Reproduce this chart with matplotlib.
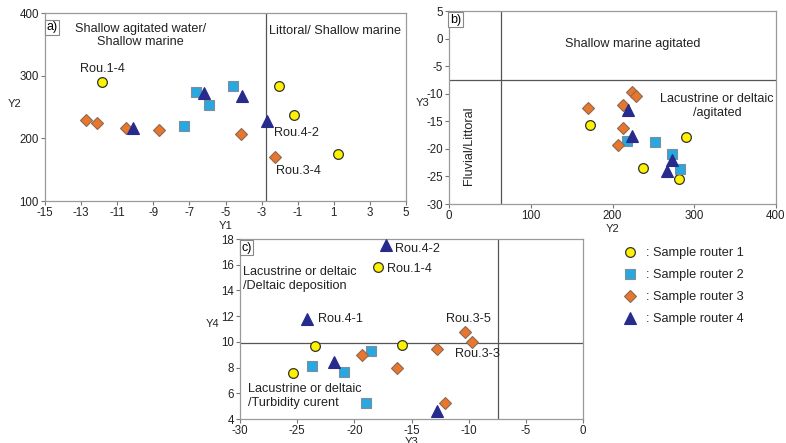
import numpy as np
import matplotlib
matplotlib.use("Agg")
from matplotlib import pyplot as plt
from matplotlib.lines import Line2D

plt.rcParams['font.family'] = ['Liberation Sans', 'DejaVu Sans']
plt.rcParams['axes.unicode_minus'] = False

# ---- panel a: Y1 vs Y2 ----
a_r1_x = [-11.86, -2.06, -1.23, 1.21]
a_r1_y = [289.7, 282.8, 237.5, 175.2]
a_r2_x = [-6.66, -5.91, -4.57, -7.31]
a_r2_y = [273.2, 253.0, 283.3, 219.4]
a_r3_x = [-12.71, -12.13, -10.53, -8.68, -4.15, -2.28]
a_r3_y = [229.0, 224.7, 215.7, 214.0, 207.7, 170.4]
a_r4_x = [-10.14, -6.18, -4.08, -2.71]
a_r4_y = [216.5, 272.5, 267.5, 227.0]

# ---- panel b: Y2 vs Y3 ----
b_r1_x = [172.8, 237.4, 281.9, 289.3]
b_r1_y = [-15.76, -23.43, -25.42, -17.93]
b_r2_x = [218.2, 252.5, 272.5, 282.3]
b_r2_y = [-18.54, -18.84, -20.89, -23.73]
b_r3_x = [169.6, 213.3, 223.5, 228.8, 213.3, 206.3]
b_r3_y = [-12.68, -11.96, -9.67, -10.39, -16.18, -19.26]
b_r4_x = [219.0, 224.3, 272.9, 266.8]
b_r4_y = [-12.9, -17.6, -22.0, -24.1]

# ---- panel c: Y3 vs Y4 ----
c_r1_x = [-17.97, -23.45, -15.81, -25.37]
c_r1_y = [15.82, 9.64, 9.74, 7.61]
c_r2_x = [-23.68, -18.52, -20.88, -18.96]
c_r2_y = [8.10, 9.27, 7.69, 5.22]
c_r3_x = [-10.31, -9.73, -12.78, -19.31, -16.25, -12.06]
c_r3_y = [10.73, 9.97, 9.45, 8.94, 8.00, 5.22]
c_r4_x = [-17.24, -24.12, -21.76, -12.73]
c_r4_y = [17.5, 11.75, 8.45, 4.6]

legend_labels = [': Sample router 1', ': Sample router 2',
                 ': Sample router 3', ': Sample router 4']

# marker styles per router
styles = [
    dict(marker='o', markersize=7.0, markerfacecolor='#FFF200', markeredgecolor='#333333', markeredgewidth=0.9),
    dict(marker='s', markersize=6.8, markerfacecolor='#29A8E0', markeredgecolor='#7f8c99', markeredgewidth=0.8),
    dict(marker='D', markersize=6.0, markerfacecolor='#E8762C', markeredgecolor='#8a6a55', markeredgewidth=0.8),
    dict(marker='^', markersize=8.6, markerfacecolor='#262B8C', markeredgecolor='#262B8C', markeredgewidth=0.8),
]

W, H = 786, 443
fig = plt.figure(figsize=(W / 100, H / 100), dpi=100)


def add_ax(left, top, right, bottom):
    return fig.add_axes([left / W, 1 - bottom / H, (right - left) / W, (bottom - top) / H])


def style_ax(ax):
    for s in ax.spines.values():
        s.set_color('#9a9a9a')
        s.set_linewidth(0.9)
    ax.tick_params(direction='out', length=3, width=0.8, color='#777777',
                   labelsize=8.3, pad=1.5, labelcolor='#222222')


def draw(ax, xs, ys):
    for (x, y), st in zip(zip(xs, ys), styles):
        ax.plot(x, y, linestyle='none', **st, zorder=3)


def panel_tag(ax, x, y, txt):
    ax.text(x, y, txt, transform=ax.transAxes, ha='left', va='top', fontsize=9,
            bbox=dict(boxstyle='square,pad=0.12', fc='white', ec='#888888', lw=0.8))


txt_kw = dict(fontsize=9.1, color='#222222')
lbl_kw = dict(fontsize=8, color='#222222')

# panel a
ax = add_ax(45, 13, 406, 201)
style_ax(ax)
ax.set_xlim(-15, 5)
ax.set_ylim(100, 400)
ax.set_xticks(np.arange(-15, 6, 2))
ax.set_yticks([100, 200, 300, 400])
ax.axvline(-2.74, color='#555555', lw=0.9)
draw(ax, [a_r1_x, a_r2_x, a_r3_x, a_r4_x], [a_r1_y, a_r2_y, a_r3_y, a_r4_y])
panel_tag(ax, 0.003, 0.955, 'a)')
ax.text(-9.72, 364, 'Shallow agitated water/\nShallow marine', ha='center', va='center',
        linespacing=1.15, **txt_kw)
ax.text(1.06, 371, 'Littoral/ Shallow marine', ha='center', va='center', **txt_kw)
ax.text(-11.8, 310, 'Rou.1-4', ha='center', va='center', **txt_kw)
ax.text(-2.33, 208, 'Rou.4-2', ha='left', va='center', **txt_kw)
ax.text(-2.22, 148, 'Rou.3-4', ha='left', va='center', **txt_kw)
ax.set_xlabel('Y1', labelpad=1, **lbl_kw)
ax.set_ylabel('Y2', rotation=0, **lbl_kw)
ax.yaxis.set_label_coords(-0.085, 0.49)

# panel b
ax = add_ax(449, 11, 776, 204)
style_ax(ax)
ax.set_xlim(0, 400)
ax.set_ylim(-30, 5)
ax.set_xticks([0, 100, 200, 300, 400])
ax.set_yticks(np.arange(-30, 6, 5))
ax.axvline(63, color='#555555', lw=0.9)
ax.axhline(-7.5, color='#555555', lw=0.9)
draw(ax, [b_r1_x, b_r2_x, b_r3_x, b_r4_x], [b_r1_y, b_r2_y, b_r3_y, b_r4_y])
panel_tag(ax, 0.003, 0.985, 'b)')
ax.text(225, -1.0, 'Shallow marine agitated', ha='center', va='center', **txt_kw)
ax.text(328, -12.2, 'Lacustrine or deltaic\n/agitated', ha='center', va='center',
        linespacing=1.15, **txt_kw)
ax.text(24, -19.5, 'Fluvial/Littoral', rotation=90, ha='center', va='center', **txt_kw)
ax.set_xlabel('Y2', labelpad=1, **lbl_kw)
ax.set_ylabel('Y3', rotation=0, **lbl_kw)
ax.yaxis.set_label_coords(-0.08, 0.5)

# panel c
ax = add_ax(240, 239, 583, 419)
style_ax(ax)
ax.set_xlim(-30, 0)
ax.set_ylim(4, 18)
ax.set_xticks(np.arange(-30, 1, 5))
ax.set_yticks(np.arange(4, 19, 2))
ax.axvline(-7.4, color='#555555', lw=0.9)
ax.axhline(9.9, color='#555555', lw=0.9)
draw(ax, [c_r1_x, c_r2_x, c_r3_x, c_r4_x], [c_r1_y, c_r2_y, c_r3_y, c_r4_y])
panel_tag(ax, 0.004, 0.985, 'c)')
ax.text(-29.74, 14.89, 'Lacustrine or deltaic\n/Deltaic deposition', ha='left', va='center',
        linespacing=1.15, **txt_kw)
ax.text(-29.3, 5.79, 'Lacustrine or deltaic\n/Turbidity curent', ha='left', va='center',
        linespacing=1.15, **txt_kw)
ax.text(-16.44, 17.22, 'Rou.4-2', ha='left', va='center', **txt_kw)
ax.text(-17.14, 15.67, 'Rou.1-4', ha='left', va='center', **txt_kw)
ax.text(-23.18, 11.78, 'Rou.4-1', ha='left', va='center', **txt_kw)
ax.text(-11.98, 11.78, 'Rou.3-5', ha='left', va='center', **txt_kw)
ax.text(-11.19, 9.06, 'Rou.3-3', ha='left', va='center', **txt_kw)
ax.set_xlabel('Y3', labelpad=0, **lbl_kw)
ax.set_ylabel('Y4', rotation=0, **lbl_kw)
ax.yaxis.set_label_coords(-0.08, 0.5)

# legend
handles = [Line2D([], [], linestyle='none', **st) for st in styles]
fig.legend(handles, legend_labels, loc='upper left', bbox_to_anchor=(618 / W, 1 - 242 / H),
           frameon=False, fontsize=9.2, handletextpad=0.8, labelspacing=0.78,
           handlelength=1.0, borderaxespad=0, labelcolor='#222222')

fig.savefig('out.png', dpi=100)
